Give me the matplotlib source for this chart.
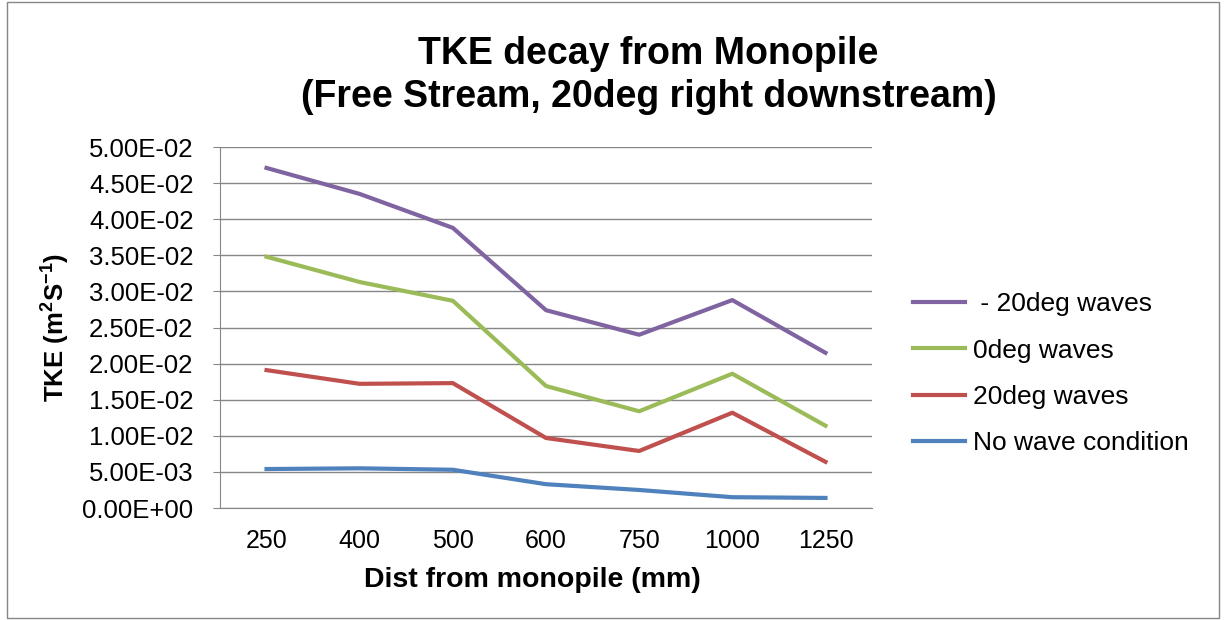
import matplotlib.pyplot as plt
from matplotlib.patches import Rectangle

plt.rcParams['font.family'] = ['Liberation Sans', 'DejaVu Sans']
plt.rcParams['mathtext.fontset'] = 'custom'
plt.rcParams['mathtext.bf'] = 'Liberation Sans:bold'
plt.rcParams['mathtext.rm'] = 'Liberation Sans'

dist = ['250', '400', '500', '600', '750', '1000', '1250']
neg20 = [0.0471, 0.0435, 0.0388, 0.0274, 0.0240, 0.0288, 0.0215]
deg0 = [0.0348, 0.0313, 0.0287, 0.0169, 0.0134, 0.0186, 0.0114]
deg20 = [0.0191, 0.0172, 0.0173, 0.0097, 0.0079, 0.0132, 0.0064]
nowave = [0.0054, 0.0055, 0.0053, 0.0033, 0.0025, 0.0015, 0.0014]
yticks = [i * 0.005 for i in range(11)]

fig = plt.figure(figsize=(12.26, 6.2), dpi=100)
ax = fig.add_axes([0.1794, 0.1806, 0.5319, 0.5823])

x = range(len(dist))
ax.plot(x, neg20, color='#8064A2', lw=3, label=' - 20deg waves')
ax.plot(x, deg0, color='#9BBB59', lw=3, label='0deg waves')
ax.plot(x, deg20, color='#C0504D', lw=3, label='20deg waves')
ax.plot(x, nowave, color='#4F81BD', lw=3, label='No wave condition')

ax.set_xlim(-0.5, len(dist) - 0.5)
ax.set_ylim(0, 0.05)
ax.set_yticks(yticks)
ax.set_yticklabels(['%.2E' % v for v in yticks], fontsize=18.5)
ax.set_xticks(list(x))
ax.set_xticklabels(dist, fontsize=18)
ax.grid(axis='y', color='#868686', lw=1)
ax.set_axisbelow(True)
for s in ['top', 'right']:
    ax.spines[s].set_visible(False)
ax.spines['left'].set_color('#868686')
ax.spines['bottom'].set_color('#868686')
ax.tick_params(axis='y', length=5, color='#868686', pad=14)
ax.tick_params(axis='x', length=0, pad=15)

ax.set_xlabel('Dist from monopile (mm)', fontsize=20.5, fontweight='bold')
ax.xaxis.set_label_coords(0.479, -0.163)
ax.set_ylabel('TKE (m$^{\\mathbf{2}}$S$^{\\mathbf{-1}}$)', fontsize=18.5, fontweight='bold', labelpad=8)

fig.text(0.529, 0.878, 'TKE decay from Monopile\n(Free Stream, 20deg right downstream)',
         ha='center', va='center', fontsize=27, fontweight='bold', linespacing=1.25)

ax.legend(loc='center left', bbox_to_anchor=(1.027, 0.372), frameon=False, fontsize=19,
          handlelength=1.95, handletextpad=0.3, labelspacing=0.85)

fig.add_artist(Rectangle((0.006, 0.003), 0.988, 0.994, transform=fig.transFigure,
                         fill=False, edgecolor='#868686', lw=1))

fig.savefig('out.png', dpi=100)
